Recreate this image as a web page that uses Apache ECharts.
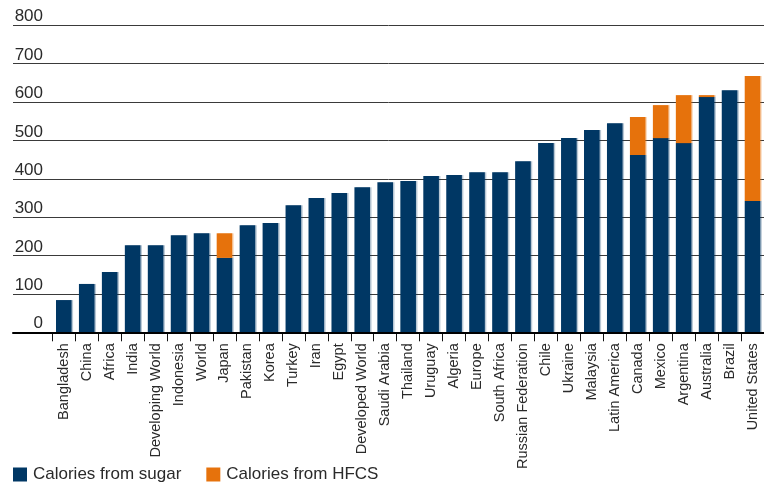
<!DOCTYPE html>
<html>
<head>
<meta charset="utf-8">
<script src="https://cdn.jsdelivr.net/npm/echarts@6/dist/echarts.min.js"></script>
<style>
html,body{margin:0;padding:0;background:#fff;}
#chart{width:764px;height:489px;}
</style>
</head>
<body>
<div id="chart"></div>
<script>
const categories = ["Bangladesh","China","Africa","India","Developing World","Indonesia","World","Japan","Pakistan","Korea","Turkey","Iran","Egypt","Developed World","Saudi Arabia","Thailand","Uruguay","Algeria","Europe","South Africa","Russian Federation","Chile","Ukraine","Malaysia","Latin America","Canada","Mexico","Argentina","Australia","Brazil","United States"];
const sugar = [84,126,157,227,227,253,258,194,279,285,331,350,363,378,391,394,407,410,417,417,446,493,506,527,545,462,506,493,613,631,342];
const hfcs  = [0,0,0,0,0,0,0,64,0,0,0,0,0,0,0,0,0,0,0,0,0,0,0,0,0,99,86,125,5,0,326];
const yTicks = {min:0, max:800, interval:100};

const FONT = "'Liberation Sans', Arial, sans-serif";
const chart = echarts.init(document.getElementById('chart'), null, {renderer:'canvas'});
const gridTop = 25.3, gridBottom = 489 - 332.3;
chart.setOption({
  animation:false,
  backgroundColor:'#fff',
  grid:[
    {left:13, right:0, top:gridTop, bottom:gridBottom},
    {left:52.3, right:-4.8, top:gridTop, bottom:gridBottom}
  ],
  xAxis:[
    {type:'value', gridIndex:0, min:0, max:1, axisLabel:{show:false}, axisTick:{show:false}, splitLine:{show:false},
     axisLine:{show:true, lineStyle:{color:'#000', width:2}}, z:5},
    {type:'category', gridIndex:1, data:categories,
     axisLine:{show:false},
     axisTick:{show:true, length:9, lineStyle:{color:'#111', width:1}},
     axisLabel:{rotate:90, interval:0, margin:11, fontFamily:FONT, fontSize:14.5, color:'#2a2a2a'}}
  ],
  yAxis:[
    {type:'value', gridIndex:0, min:yTicks.min, max:yTicks.max, interval:yTicks.interval,
     axisLine:{show:false}, axisTick:{show:false},
     splitLine:{show:true, lineStyle:{color:'#3a3a3a', width:1}},
     axisLabel:{inside:true, margin:30, align:'right', verticalAlign:'bottom', padding:0,
       fontFamily:FONT, fontSize:17, color:'#2a2a2a'}},
    {type:'value', gridIndex:1, min:yTicks.min, max:yTicks.max, interval:yTicks.interval, show:false}
  ],
  legend:{
    left:13, top:466, padding:0, itemWidth:14, itemHeight:14, itemGap:25, icon:'rect',
    textStyle:{fontFamily:FONT, fontSize:17, color:'#2a2a2a', padding:[0,0,0,1]},
    data:['Calories from sugar','Calories from HFCS']
  },
  series:[
    {name:'Calories from sugar', type:'bar', stack:'cal', xAxisIndex:1, yAxisIndex:1, data:sugar,
     barWidth:'68%', itemStyle:{color:'#003764', shadowColor:'rgba(0,55,100,0.28)', shadowOffsetX:1.5, shadowBlur:0}},
    {name:'Calories from HFCS', type:'bar', stack:'cal', xAxisIndex:1, yAxisIndex:1, data:hfcs,
     barWidth:'68%', itemStyle:{color:'#e6720c', shadowColor:'rgba(230,114,12,0.25)', shadowOffsetX:1.5, shadowBlur:0}}
  ]
});
</script>
</body>
</html>
